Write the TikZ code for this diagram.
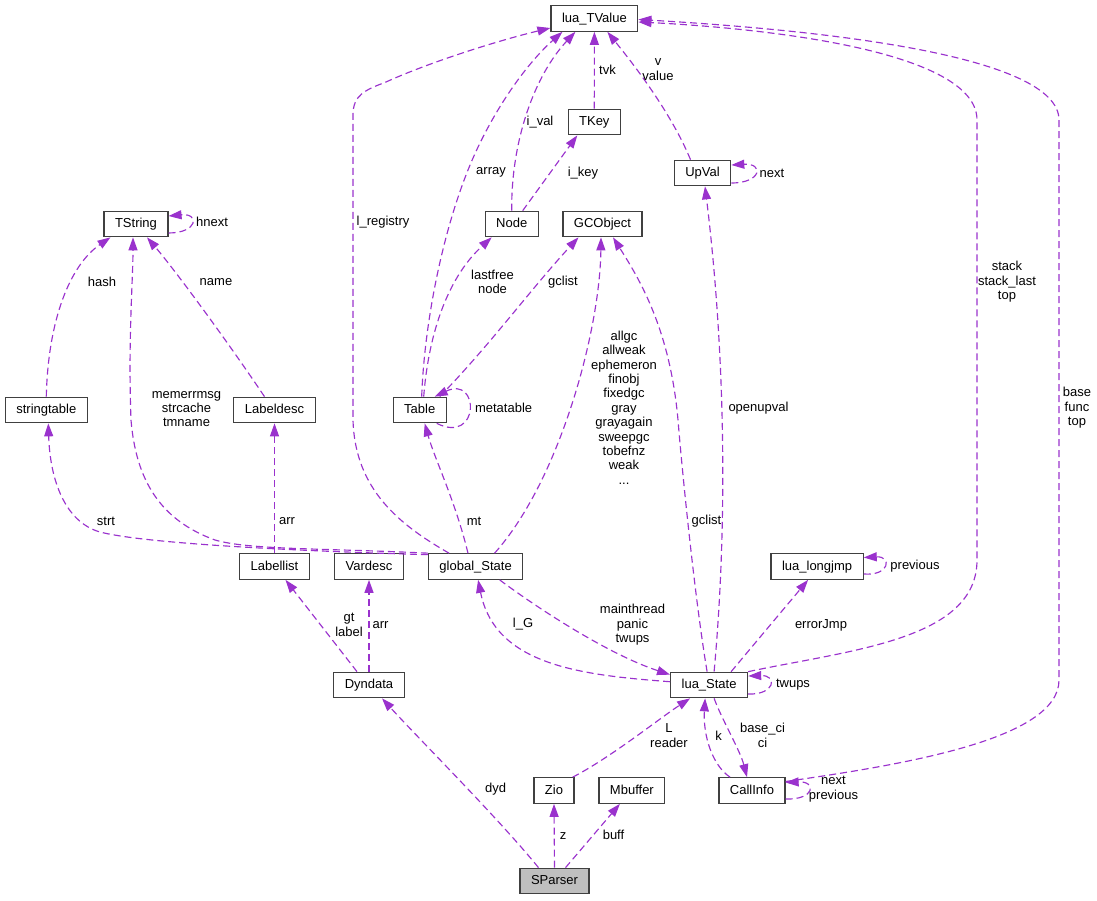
\documentclass[tikz,border=0pt]{standalone}
\usepackage{fontspec}
\setmainfont{Liberation Sans}
\usetikzlibrary{arrows.meta}
\definecolor{edgePurple}{HTML}{9A32CD}
\definecolor{boxGray}{HTML}{404040}
\definecolor{rootGray}{HTML}{BFBFBF}

\begin{document}
\begin{tikzpicture}[
    x=1pt, y=-1pt,
    every node/.style={font=\fontsize{13}{14.4}\selectfont},
    box/.style={rectangle, draw=boxGray, line width=1.2pt, fill=white,
                minimum height=25.5pt, inner xsep=11pt, inner ysep=0pt,
                text height=10pt, text depth=2.4pt},
    root/.style={box, fill=rootGray},
    member/.style={draw=edgePurple, line width=1.15pt, dash pattern=on 7pt off 4pt,
                   -{Triangle[length=13pt, width=9pt]}},
    lbl/.style={align=center, inner sep=0pt},
  ]
    \useasboundingbox (0,0) rectangle (1097,900);

    % structs
    \node[box] (TValue) at (594.4,18.5) {lua\_TValue};
    \node[box] (TKey) at (594.3,122) {TKey};
    \node[box] (UpVal) at (702.5,173) {UpVal};
    \node[box] (NodeT) at (511.7,224) {Node};
    \node[box] (GCObj) at (602.5,224) {GCObject};
    \node[box] (TString) at (136,224) {TString};
    \node[box] (strtab) at (46.3,410) {stringtable};
    \node[box] (Labeldesc) at (274.5,410) {Labeldesc};
    \node[box] (Table) at (419.7,410) {Table};
    \node[box] (Labellist) at (274.5,566.5) {Labellist};
    \node[box] (Vardesc) at (369,566.5) {Vardesc};
    \node[box] (gState) at (475.6,566.5) {global\_State};
    \node[box] (LJmp) at (817.1,566.5) {lua\_longjmp};
    \node[box] (LState) at (709.1,685) {lua\_State};
    \node[box] (Dyndata) at (369,685) {Dyndata};
    \node[box] (Zio) at (554,790.5) {Zio};
    \node[box] (Mbuffer) at (631.9,790.5) {Mbuffer};
    \node[box] (CallInfo) at (752,790.5) {CallInfo};
    \node[root] (SParser) at (554.5,881) {SParser};

    % references to lua_TValue
    \draw[member] ([xshift=2pt]Table.north) .. controls (424,330) and (440,240) .. (468,170)
        .. controls (490,115) and (525,65) .. ([xshift=-32pt]TValue.south)
        node[lbl] (lArray) at (491,172) {array};
    \draw[member] (NodeT.north) .. controls (511,140) and (535,75) .. ([xshift=-19pt]TValue.south)
        node[lbl] (lIVal) at (540,122) {i\_val};
    \draw[member] (TKey.north) -- (TValue.south)
        node[lbl] (lTvk) at (607.5,70) {tvk};
    \draw[member] ([xshift=-12pt]UpVal.north) .. controls (670,110) and (630,60) .. ([xshift=13pt]TValue.south)
        node[lbl] (lValue) at (658,69.5) {v\\value};
    \draw[member] ([xshift=-26.6pt]gState.north) .. controls (400,525) and (355,490) .. (353,420)
        -- (353,115) .. controls (353,95) and (365,90) .. (386,82)
        .. controls (430,62) and (500,40) .. ([yshift=-9.5pt]TValue.west)
        node[lbl] (lRegistry) at (383,222) {l\_registry};
    \draw[member] (LState.north east) .. controls (850,650) and (977,640) .. (977,560)
        -- (977,120) .. controls (977,50) and (760,28) .. ([yshift=-3.5pt]TValue.east)
        node[lbl] (lStack) at (1007,282) {stack\\stack\_last\\top};
    \draw[member] ([yshift=9pt]CallInfo.east) .. controls (900,765) and (1059,740) .. (1059,680)
        -- (1059,120) .. controls (1059,55) and (820,30) .. ([yshift=-1pt]TValue.east)
        node[lbl] (lBase) at (1077,408) {base\\func\\top};

    % upper structs
    \draw[member] ([xshift=11pt]NodeT.north) -- ([xshift=-17pt]TKey.south)
        node[lbl] (lIKey) at (583,173) {i\_key};
    \draw[member] ([yshift=-10pt]UpVal.east) .. controls (762,183) and (764,163) .. ([yshift=8pt]UpVal.east)
        node[lbl] (lNext) at (772,173) {next};
    \draw[member] ([yshift=-9pt]TString.east) .. controls (198,233) and (200,213) .. ([yshift=8pt]TString.east)
        node[lbl] (lHnext) at (212,222) {hnext};
    \draw[member] (strtab.north) .. controls (48,320) and (70,265) .. ([xshift=-25.5pt]TString.south)
        node[lbl] (lHash) at (102,282) {hash};
    \draw[member] ([xshift=-10pt]Labeldesc.north) .. controls (230,345) and (175,270) .. ([xshift=11pt]TString.south)
        node[lbl] (lName) at (216,282) {name};
    \draw[member] (gState.north west) .. controls (320,548) and (250,550) .. (215,540)
        .. controls (160,520) and (136,480) .. (131,420)
        .. controls (128,340) and (133,280) .. ([xshift=-3pt]TString.south)
        node[lbl] (lStrcache) at (186.5,409) {memerrmsg\\strcache\\tmname};
    \draw[member] ([yshift=-1.5pt]gState.north west) .. controls (330,552) and (150,545) .. (100,532)
        .. controls (65,522) and (50,480) .. ([xshift=2pt]strtab.south)
        node[lbl] (lStrt) at (106,521) {strt};
    \draw[member] (Labellist.north) -- (Labeldesc.south)
        node[lbl] (lArrA) at (287,521) {arr};

    % Table
    \draw[member] ([xshift=17pt]Table.south) .. controls (480,445) and (480,375) .. ([xshift=15pt]Table.north)
        node[lbl] (lMeta) at (503.6,408) {metatable};
    \draw[member] ([xshift=4pt]Table.north) .. controls (428,340) and (445,280) .. ([xshift=-20pt]NodeT.south)
        node[lbl] (lLastfree) at (492.5,282) {lastfree\\node};
    \draw[member] ([xshift=20pt]Table.north) .. controls (490,345) and (530,290) .. ([xshift=-24pt]GCObj.south)
        node[lbl] (lGclistA) at (563,282) {gclist};

    % global_State
    \draw[member] ([xshift=-7.6pt]gState.north) .. controls (455,500) and (435,460) .. ([xshift=5pt]Table.south)
        node[lbl] (lMt) at (474,521) {mt};
    \draw[member] ([xshift=19pt]gState.north) .. controls (560,480) and (600,330) .. ([xshift=-1.5pt]GCObj.south)
        node[lbl] (lAllgc) at (624,407.5) {allgc\\allweak\\ephemeron\\finobj\\fixedgc\\gray\\grayagain\\sweepgc\\tobefnz\\weak\\...};
    \draw[member] ([xshift=24pt]gState.south) .. controls (540,610) and (610,655) .. ([yshift=-3pt]LState.north west)
        node[lbl] (lMain) at (632.5,625) {mainthread\\panic\\twups};

    % lua_State
    \draw[member] ([xshift=-2pt]LState.north) .. controls (695,600) and (682,470) .. (678,420)
        .. controls (670,330) and (640,280) .. ([xshift=10.5pt]GCObj.south)
        node[lbl] (lGclistB) at (706.5,521) {gclist};
    \draw[member] ([xshift=5pt]LState.north) .. controls (728,520) and (725,350) .. ([xshift=2.5pt]UpVal.south)
        node[lbl] (lOpen) at (758.5,408) {openupval};
    \draw[member] ([yshift=3.3pt]LState.west) .. controls (580,675) and (495,665) .. ([xshift=2.5pt]gState.south)
        node[lbl] (lG) at (523,624) {l\_G};
    \draw[member] ([xshift=22pt]LState.north) -- ([xshift=-9pt]LJmp.south)
        node[lbl] (lErr) at (821,625) {errorJmp};
    \draw[member] ([yshift=-7.5pt]LJmp.east) .. controls (890,576) and (892,556) .. ([yshift=9pt]LJmp.east)
        node[lbl] (lPrev) at (915,566) {previous};
    \draw[member] ([yshift=-9pt]LState.east) .. controls (775,695) and (778,675) .. ([yshift=9pt]LState.east)
        node[lbl] (lTwups) at (793,685) {twups};

    % CallInfo
    \draw[member] ([xshift=-22pt]CallInfo.north) .. controls (712,765) and (703,735) .. ([xshift=-4pt]LState.south)
        node[lbl] (lK) at (718.5,736) {k};
    \draw[member] ([xshift=5pt]LState.south) .. controls (722,720) and (740,750) .. ([xshift=-5pt]CallInfo.north)
        node[lbl] (lCi) at (762.5,735.5) {base\_ci\\ci};
    \draw[member] ([yshift=-8.5pt]CallInfo.east) .. controls (815,800) and (817,781) .. ([yshift=8pt]CallInfo.east)
        node[lbl] (lNextPrev) at (833.5,789) {next\\previous};

    % parser side
    \draw[member] ([xshift=-2pt]Zio.north east) .. controls (610,758) and (660,718) .. ([xshift=-19pt]LState.south)
        node[lbl] (lReader) at (669,735.5) {L\\reader};
    \draw[member] (Dyndata.north) -- (Vardesc.south)
        node[lbl] (lArrB) at (380.6,625) {arr};
    \draw[member] ([xshift=-12pt]Dyndata.north) -- ([xshift=11pt]Labellist.south)
        node[lbl] (lLabel) at (349,625) {gt\\label};
    \draw[member] ([xshift=-16pt]SParser.north) .. controls (500,820) and (420,740) .. ([xshift=13pt]Dyndata.south)
        node[lbl] (lDyd) at (495.5,789) {dyd};
    \draw[member] (SParser.north) -- (Zio.south)
        node[lbl] (lZ) at (563,836) {z};
    \draw[member] ([xshift=11pt]SParser.north) -- ([xshift=-12pt]Mbuffer.south)
        node[lbl] (lBuff) at (613.5,835) {buff};
\end{tikzpicture}
\end{document}
